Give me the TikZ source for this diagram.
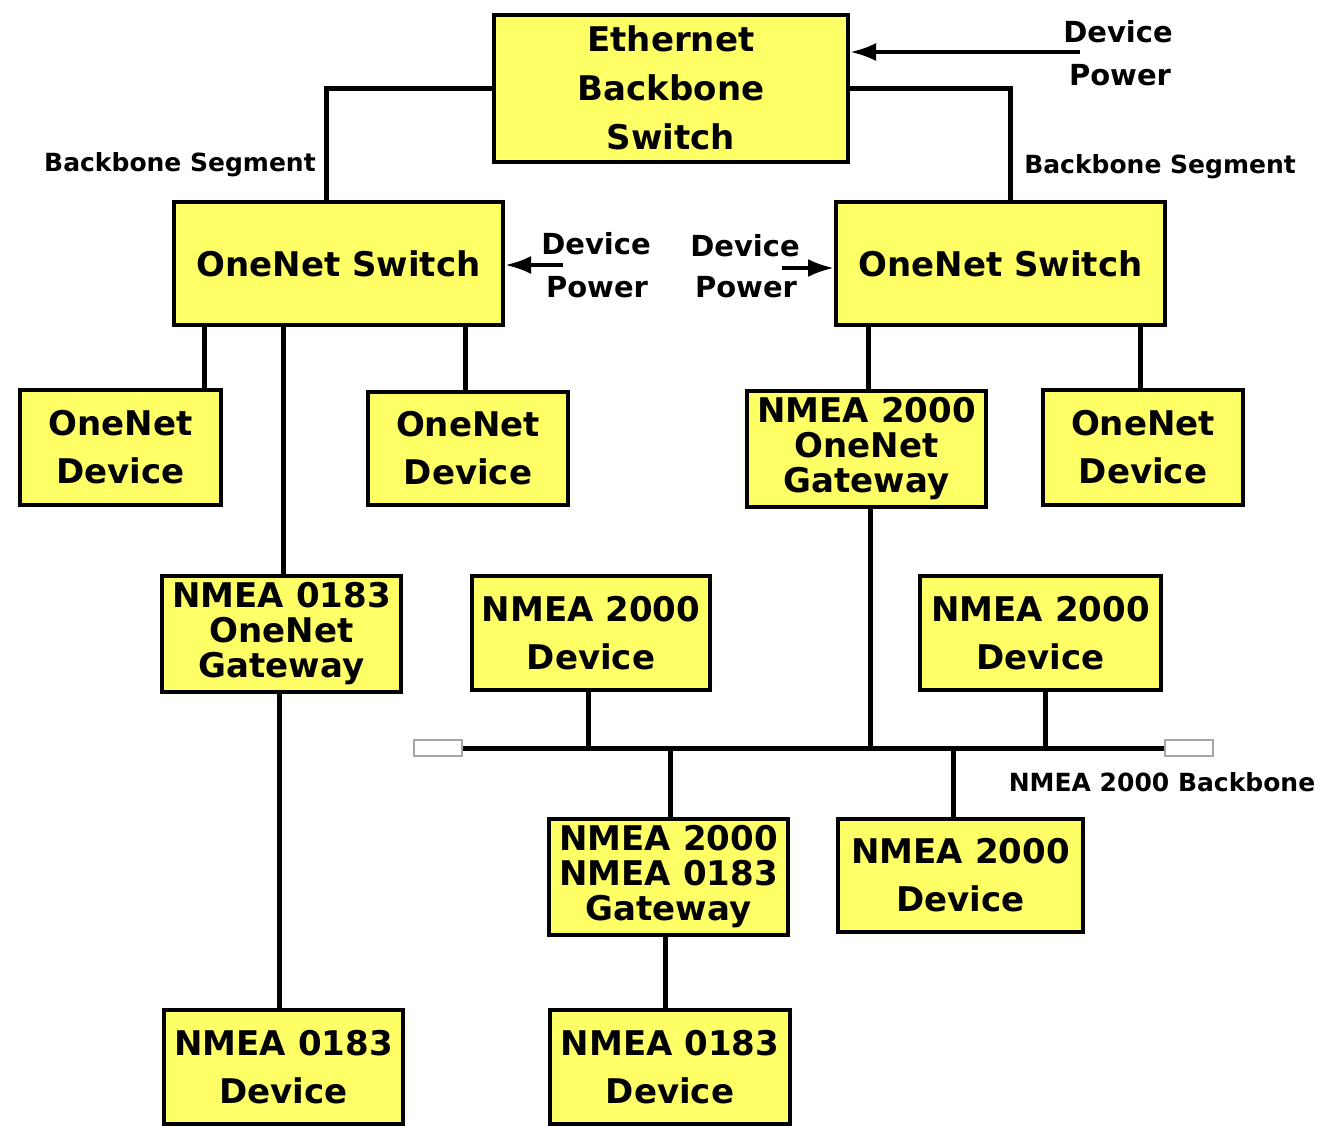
\documentclass[tikz,border=0pt]{standalone}
\usepackage{fontspec}
\setmainfont{DejaVu Sans}
\usetikzlibrary{arrows.meta,calc}
\definecolor{boxyellow}{RGB}{255,255,102}
\begin{document}
\begin{tikzpicture}[x=0.5pt,y=-0.5pt,
  box/.style 2 args={draw=black, line width=2pt, fill=boxyellow,
    minimum width=#1*0.5pt, minimum height=#2*0.5pt, inner sep=0pt,
    align=center, font=\fontsize{17}{24}\selectfont\bfseries},
  tight/.style={font=\fontsize{17}{17.5}\selectfont\bfseries},
  conn/.style={draw=black, line width=2.5pt},
  arr/.style={draw=black, line width=2pt, -{Latex[length=13pt,width=9pt]}},
  lab/.style={font=\fontsize{14.5}{14.5}\selectfont\bfseries, inner sep=0pt},
  seglab/.style={font=\fontsize{12.5}{12.5}\selectfont\bfseries, inner sep=0pt},
  term/.style={draw=gray!70, line width=0.7pt, fill=white,
    minimum width=24pt, minimum height=8pt, inner sep=0pt}]
\useasboundingbox (0,0) rectangle (1323,1126);

% boxes
\node[box={354}{147}, font=\fontsize{17}{24.5}\selectfont\bfseries] (eth) at (671,88) {Ethernet\\Backbone\\Switch};
\node[box={329}{123}] (lsw) at (338.5,263.5) {OneNet Switch};
\node[box={329}{123}] (rsw) at (1000.5,263.5) {OneNet Switch};
\node[box={201}{115}] (od1) at (120.5,447.5) {OneNet\\Device};
\node[box={200}{113}] (od2) at (468,448.5) {OneNet\\Device};
\node[box={239}{116}, tight] (gw1) at (866.5,449) {NMEA 2000\\OneNet\\Gateway};
\node[box={200}{115}] (od3) at (1143,447.5) {OneNet\\Device};
\node[box={239}{116}, tight] (gw0) at (281.5,634) {NMEA 0183\\OneNet\\Gateway};
\node[box={238}{114}] (n2a) at (591,633) {NMEA 2000\\Device};
\node[box={241}{114}] (n2b) at (1040.5,633) {NMEA 2000\\Device};
\node[box={239}{116}, tight] (gw2) at (668.5,877) {NMEA 2000\\NMEA 0183\\Gateway};
\node[box={245}{113}] (n2c) at (960.5,875.5) {NMEA 2000\\Device};
\node[box={239}{114}] (n0a) at (283.5,1067) {NMEA 0183\\Device};
\node[box={240}{114}] (n0b) at (670,1067) {NMEA 0183\\Device};

% backbone terminators
\node[term] (tl) at (438,748) {};
\node[term] (tr) at (1189,748) {};

% x positions of connectors
\coordinate (xL) at (326,0);
\coordinate (xR) at (1010,0);
\coordinate (xa) at (204,0);
\coordinate (xb) at (283,0);
\coordinate (xc) at (465,0);
\coordinate (xd) at (279,0);
\coordinate (xe) at (868,0);
\coordinate (xf) at (1140,0);
\coordinate (xg) at (870,0);
\coordinate (xh) at (588,0);
\coordinate (xi) at (1045,0);
\coordinate (xj) at (670,0);
\coordinate (xk) at (953,0);
\coordinate (xl) at (665,0);

% connectors
\draw[conn] (eth.west) -| (xL |- lsw.north);
\draw[conn] (eth.east) -| (xR |- rsw.north);
\draw[conn] (xa |- lsw.south) -- (xa |- od1.north);
\draw[conn] (xb |- lsw.south) -- (xb |- gw0.north);
\draw[conn] (xc |- lsw.south) -- (xc |- od2.north);
\draw[conn] (xd |- gw0.south) -- (xd |- n0a.north);
\draw[conn] (xe |- rsw.south) -- (xe |- gw1.north);
\draw[conn] (xf |- rsw.south) -- (xf |- od3.north);
\draw[conn] (tl.east) -- (tr.west);
\draw[conn] (xg |- gw1.south) -- (xg |- tl.east);
\draw[conn] (xh |- n2a.south) -- (xh |- tl.east);
\draw[conn] (xi |- n2b.south) -- (xi |- tl.east);
\draw[conn] (xj |- tl.east) -- (xj |- gw2.north);
\draw[conn] (xk |- tl.east) -- (xk |- n2c.north);
\draw[conn] (xl |- gw2.south) -- (xl |- n0b.north);

% device power arrows
\coordinate (a0) at (1080,52);
\coordinate (a1) at (563,265);
\coordinate (a2) at (782,268);
\draw[arr] (a0) -- (a0 -| eth.east);
\draw[arr] (a1) -- (a1 -| lsw.east);
\draw[arr] (a2) -- (a2 -| rsw.west);

% labels
\node[lab] (dp0a) at (1118,32) {Device};
\node[lab] (dp0b) at (1120,75) {Power};
\node[lab] (dp1a) at (596,244) {Device};
\node[lab] (dp1b) at (597,287) {Power};
\node[lab] (dp2a) at (745,246) {Device};
\node[lab] (dp2b) at (746,287) {Power};
\node[seglab] (segL) at (180,165) {Backbone Segment};
\node[seglab] (segR) at (1160,167) {Backbone Segment};
\node[seglab] (nbb) at (1162,782) {NMEA 2000 Backbone};
\end{tikzpicture}
\end{document}
